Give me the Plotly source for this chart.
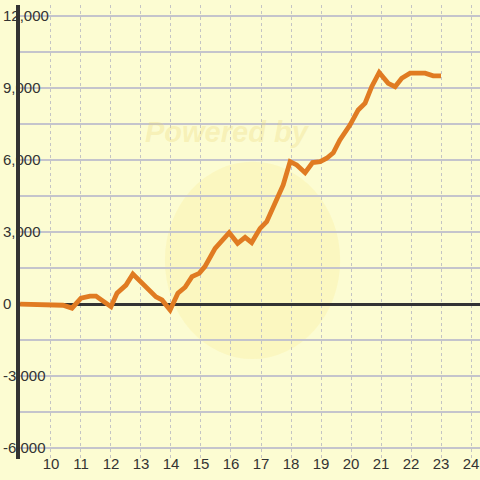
import plotly.graph_objects as go

hours = [8.97, 10.0, 10.4, 10.7, 11.0, 11.3, 11.5, 12.0, 12.2, 12.5, 12.73,
         13.5, 13.7, 13.97, 14.23, 14.47, 14.7, 14.94, 15.13, 15.47, 15.69,
         15.94, 16.22, 16.47, 16.69, 16.97, 17.19, 17.47, 17.74, 17.97, 18.19,
         18.47, 18.72, 18.97, 19.19, 19.41, 19.63, 19.97, 20.24, 20.47, 20.69,
         20.94, 21.24, 21.47, 21.69, 21.97, 22.47, 22.74, 23.0]
values = [0, 0, -50, -170, 250, 330, 330, -110, 450, 790, 1250,
          300, 170, -250, 450, 700, 1140, 1280, 1560, 2320, 2600,
          2970, 2530, 2780, 2560, 3150, 3430, 4190, 4960, 5930, 5790,
          5470, 5890, 5930, 6070, 6300, 6830, 7460, 8080, 8360, 9050,
          9640, 9190, 9050, 9400, 9610, 9610, 9500, 9500]

x_ticks = list(range(10, 25))
y_ticks = [-6000, -4500, -3000, -1500, 0, 1500, 3000, 4500, 6000, 7500, 9000, 10500, 12000]
y_labels = ["-6,000", "", "-3,000", "", "0", "", "3,000", "", "6,000", "", "9,000", "", "12,000"]

fig = go.Figure()
fig.add_trace(go.Scatter(x=hours, y=values, mode="lines",
                         line=dict(color="#E07B22", width=4.8), hoverinfo="skip"))

fig.add_shape(type="circle", xref="paper", yref="paper", x0=0.315, x1=0.696, y0=0.22, y1=0.655,
              fillcolor="rgba(250,235,140,0.24)", line=dict(width=0), layer="below")
fig.add_annotation(text="<b><i>Powered by</i></b>", xref="paper", yref="paper", x=0.45, y=0.76,
                   showarrow=False, font=dict(size=29, color="rgba(235,215,120,0.30)", family="Liberation Sans"))

fig.update_layout(
    width=480, height=480,
    margin=dict(l=20, r=0, t=5.2, b=21.2),
    paper_bgcolor="#FCFCD2", plot_bgcolor="#FCFCD2",
    showlegend=False,
    font=dict(family="Liberation Sans, Arial, sans-serif", size=14, color="#333333"),
    xaxis=dict(range=[8.967, 24.3], tickvals=x_ticks, ticktext=[str(t) for t in x_ticks],
               showgrid=True, gridcolor="#C4C4C4", griddash="dot", gridwidth=1,
               zeroline=False, showline=False, ticks="", automargin=False,
               ticklabelstandoff=-6,
               tickfont=dict(size=15, color="#333333")),
    yaxis=dict(range=[-6450, 12450], tickvals=y_ticks, ticktext=y_labels,
               showgrid=True, gridcolor="#C4C4CC", gridwidth=1.5,
               zeroline=True, zerolinecolor="#333333", zerolinewidth=3,
               showline=True, linecolor="#333333", linewidth=4,
               ticks="", ticklabelposition="inside", ticklabelstandoff=-17,
               automargin=False,
               tickfont=dict(size=15, color="#333333")),
)

fig.write_html("out.html", config={"displayModeBar": False},
               post_script="document.body.style.margin='0';document.body.style.background='#FCFCD2';")
